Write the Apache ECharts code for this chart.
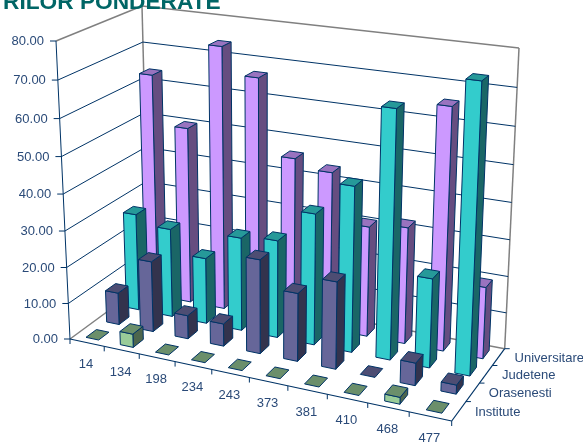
<!DOCTYPE html>
<html><head><meta charset="utf-8">
<style>html,body{margin:0;padding:0;background:#fff}#c{width:583px;height:442px}</style>
<script src="https://cdn.jsdelivr.net/npm/echarts@6/dist/echarts.min.js"></script>
</head><body><div id="c"></div>
<script>
const titleText = 'RILOR PONDERATE';
const categories = ['14','134','198','234','243','373','381','410','468','477'];
const depthNames = ['Institute','Orasenesti','Judetene','Universitare'];
const yTicks = [0,10,20,30,40,50,60,70,80];
const institute    = [0, 3.7, 0, 0, 0, 0, 0, 0, 1.8, 0];
const orasenesti   = [9, 19.7, 6.5, 6.2, 25.7, 18.5, 23.5, 0, 6, 2.4];
const judetene     = [27.5, 25, 18.5, 26, 27, 36, 45, 66.5, 24, 76];
const universitare = [63.5, 50, 73.7, 66.5, 46, 43.7, 30.5, 32, 65.5, 19.5];
const seriesValues = [institute, orasenesti, judetene, universitare];
const colors = [
  {front:'#99CC99', top:'#6B8F6B', side:'#4D664D'},
  {front:'#666699', top:'#4D4D73', side:'#33334D'},
  {front:'#33CCCC', top:'#269999', side:'#1A6666'},
  {front:'#CC99FF', top:'#9973BF', side:'#664D80'}
];
const NAVY='#003366', GREY='#808080', TEXT='#2A4A78';
const barW=0.37, barD=0.5, heightPersp=1.056;

// chart box seen in perspective: corners in px, floor and top planes
function quad(p){
  const [x0,y0]=p[0],[x1,y1]=p[1],[x2,y2]=p[2],[x3,y3]=p[3];
  const dx1=x1-x2,dx2=x3-x2,sx=x0-x1+x2-x3,dy1=y1-y2,dy2=y3-y2,sy=y0-y1+y2-y3;
  const den=dx1*dy2-dx2*dy1,g=(sx*dy2-dx2*sy)/den,h=(dx1*sy-sx*dy1)/den;
  const a=x1-x0+g*x1,b=x3-x0+h*x3,d=y1-y0+g*y1,e=y3-y0+h*y3;
  return (u,w)=>{const t=g*u+h*w+1;return [(a*u+b*w+x0)/t,(d*u+e*w+y0)/t];};
}
const floorQ=quad([[70,339],[451.7,421],[504.7,348.7],[149,281]]);
const topQ=quad([[56,41],[463.5,92],[519,48],[142,6]]);
function P(u,w,h){
  const f=floorQ(u,w),t=topQ(u,w),s=h/(h+(1-h)*heightPersp);
  return [f[0]+(t[0]-f[0])*s,f[1]+(t[1]-f[1])*s];
}

function poly(pts,fill){return {type:'polygon',shape:{points:pts},style:{fill:fill,stroke:NAVY,lineWidth:1,lineJoin:'round'}};}
function line(a,b,c,lw){return {type:'line',shape:{x1:a[0],y1:a[1],x2:b[0],y2:b[1]},style:{stroke:c,lineWidth:lw||1,fill:null}};}
function text(pos,s,align,vert){return {type:'text',x:pos[0],y:pos[1],style:{text:s,fill:TEXT,font:'13px "Liberation Sans", Arial, sans-serif',align:align,verticalAlign:vert||'middle'}};}

function normH(params,api,v){const cs=params.coordSys;const c=api.coord([0,v]);return (cs.y+cs.height-c[1])/cs.height;}
function normU(params,api,i){const cs=params.coordSys;const c=api.coord([i,0]);return (c[0]-cs.x)/cs.width;}

function renderBar(params,api){
  const i=api.value(0),v=api.value(1),d=api.value(2);
  const uc=normU(params,api,i),h=normH(params,api,v),n=categories.length,m=depthNames.length;
  const u0=uc-barW/2/n,u1=uc+barW/2/n,wc=(d+.5)/m,w0=wc-barD/2/m,w1=wc+barD/2/m;
  const c=colors[d],ch=[];
  if(v>0){
    ch.push(poly([P(u1,w0,0),P(u1,w1,0),P(u1,w1,h),P(u1,w0,h)],c.side));
    ch.push(poly([P(u0,w0,0),P(u1,w0,0),P(u1,w0,h),P(u0,w0,h)],c.front));
  }
  ch.push(poly([P(u0,w0,h),P(u1,w0,h),P(u1,w1,h),P(u0,w1,h)],c.top));
  return {type:'group',children:ch};
}
function renderFrame(params,api){
  const ch=[];
  ch.push(line(P(0,0,0),P(0,1,0),GREY,1.5),line(P(0,1,0),P(1,1,0),GREY,1.5));
  ch.push(line(P(0,1,0),P(0,1,1),GREY,1.5),line(P(1,1,0),P(1,1,1),GREY,1.5));
  ch.push(line(P(0,0,1),P(0,1,1),GREY,1.5),line(P(0,1,1),P(1,1,1),GREY,1.5));
  yTicks.forEach(t=>{
    const h=normH(params,api,t);
    if(t>0&&t<yTicks[yTicks.length-1]) ch.push(line(P(0,0,h),P(0,1,h),NAVY),line(P(0,1,h),P(1,1,h),NAVY));
    const a=P(0,0,h);
    ch.push(line(a,[a[0]-6,a[1]],NAVY));
    ch.push(text([a[0]-12,a[1]+0.5],t.toFixed(2),'right'));
  });
  ch.push(line(P(0,0,0),P(0,0,1),NAVY),line(P(0,0,0),P(1,0,0),NAVY,1.2),line(P(1,0,0),P(1,1,0),NAVY,1.2));
  categories.forEach((s,i)=>{
    const t=P(i/categories.length,0,0);
    ch.push(line(t,[t[0],t[1]+5],NAVY));
    const c=P((i+.5)/categories.length,0,0);
    ch.push(text([c[0]-1,c[1]+22],s,'center'));
  });
  const e=P(1,0,0);ch.push(line(e,[e[0],e[1]+5],NAVY));
  depthNames.forEach((s,d)=>{
    const t=P(1,d/depthNames.length,0);
    if(d>0) ch.push(line(t,[t[0]+5,t[1]],NAVY));
    const c=P(1,(d+.5)/depthNames.length,0);
    ch.push(text([c[0]+16,c[1]+1],s,'left'));
  });
  const b=P(1,1,0);ch.push(line(b,[b[0]+5,b[1]],NAVY));
  return {type:'group',children:ch};
}
const series=[{type:'custom',name:'frame',silent:true,renderItem:renderFrame,data:[[0,0]],z:1}];
for(let d=depthNames.length-1;d>=0;d--){
  series.push({type:'custom',name:depthNames[d],renderItem:renderBar,z:2,
    encode:{x:0,y:1},data:seriesValues[d].map((v,i)=>[i,v,d])});
}
const chart=echarts.init(document.getElementById('c'),null,{renderer:'canvas'});
chart.setOption({
  animation:false,backgroundColor:'#fff',
  title:{text:titleText,left:-2,top:-14,textStyle:{color:'#006666',fontSize:22.7,fontWeight:'bold',fontFamily:'"Liberation Sans", Arial, sans-serif'}},
  grid:{left:0,top:0,right:0,bottom:0},
  xAxis:{type:'category',data:categories,show:false},
  yAxis:{type:'value',min:0,max:80,interval:10,show:false},
  series:series
});
</script></body></html>
